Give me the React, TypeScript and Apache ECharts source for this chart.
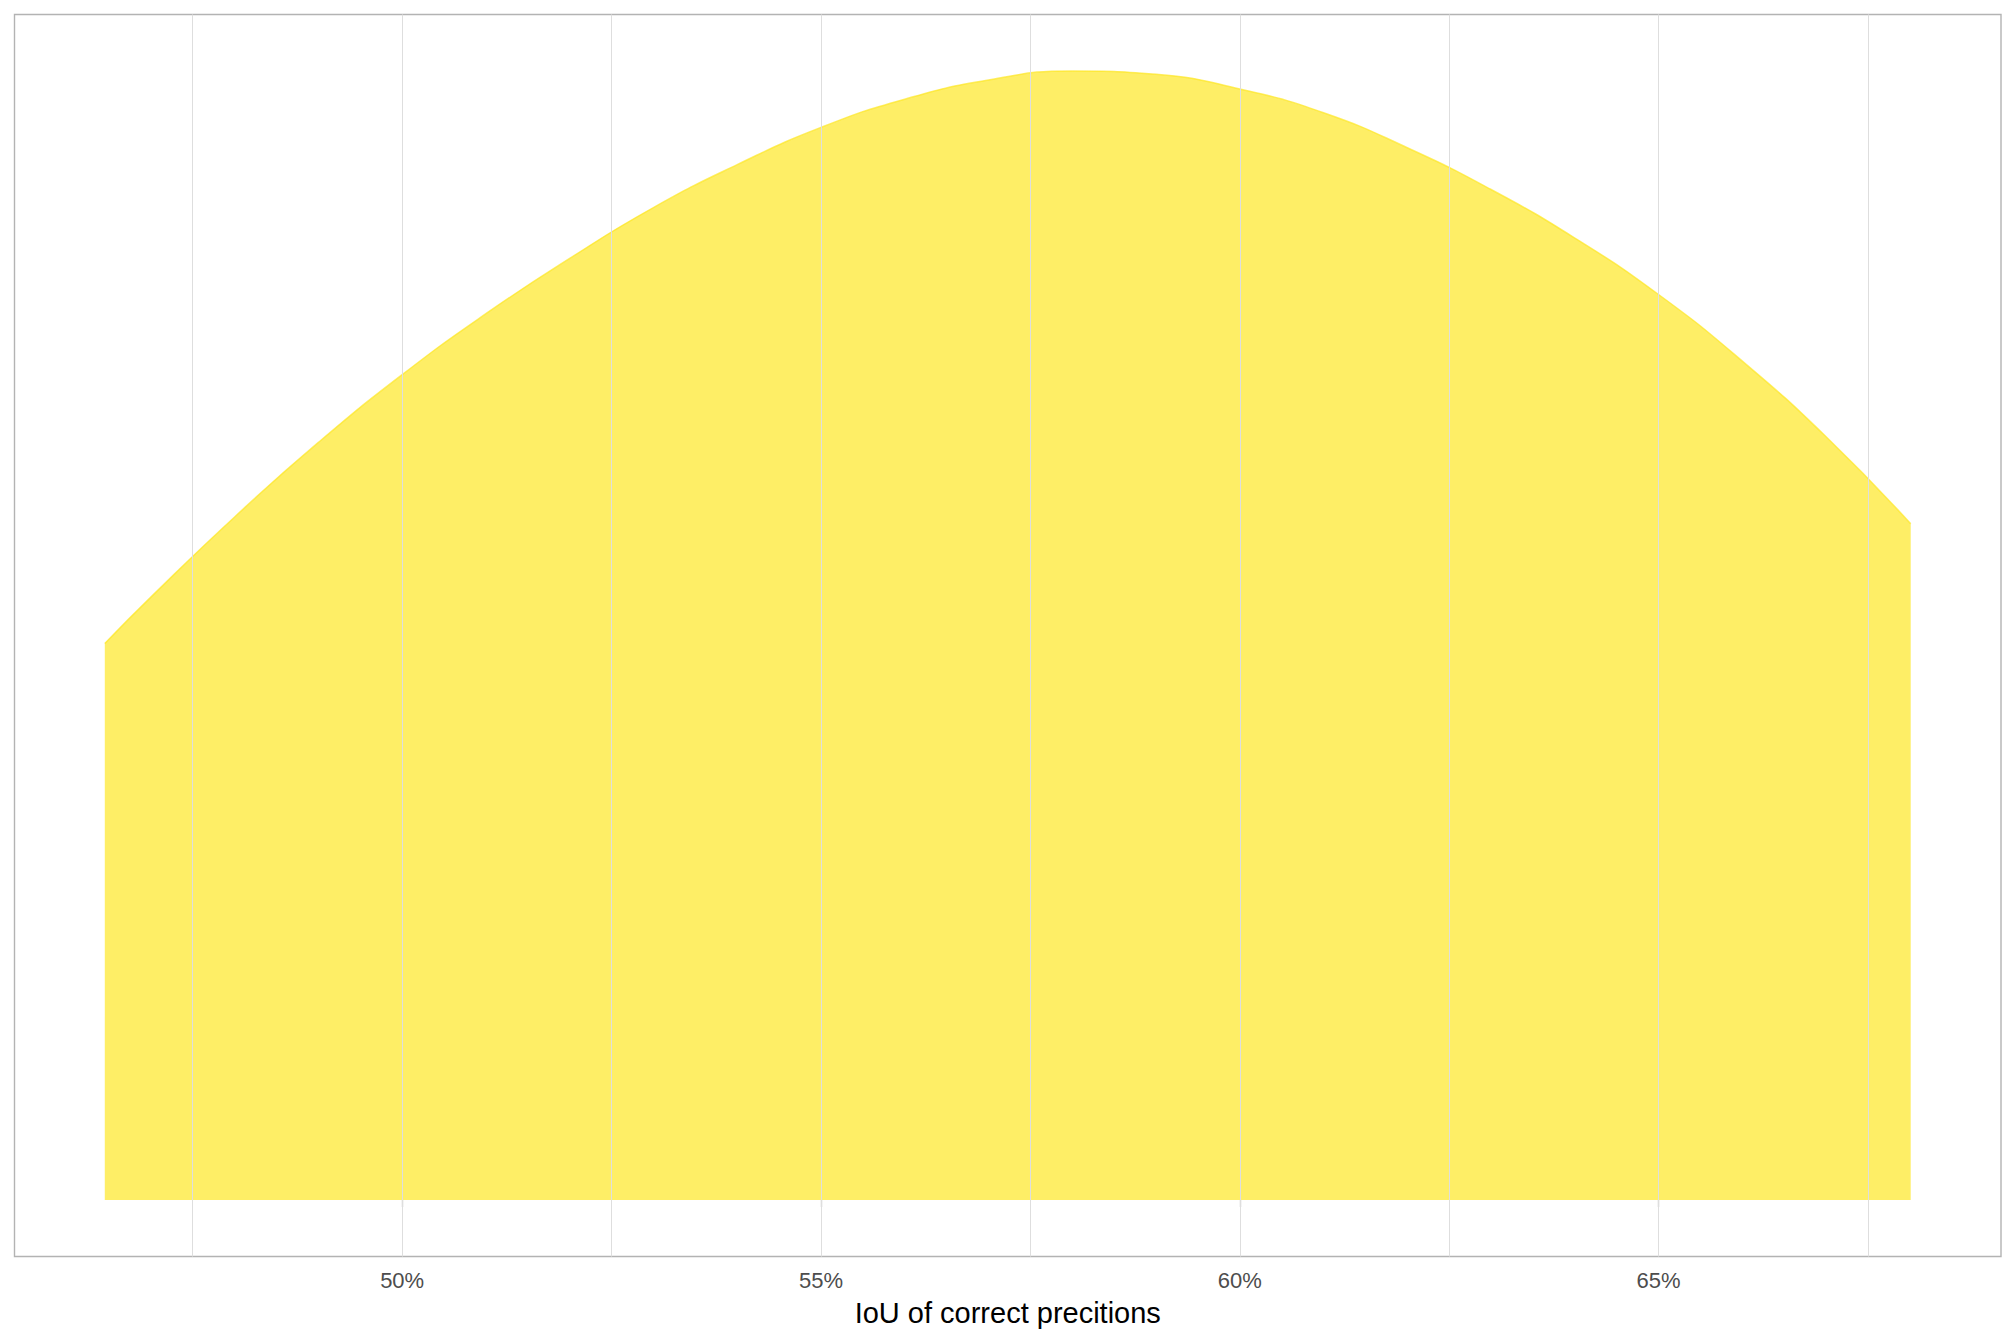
import React, { useEffect, useRef } from "react";
import * as echarts from "echarts";

// IoU of correct predictions (%) and density estimate (relative)
const iou = [46.45, 47, 48, 49, 50, 51, 52, 53, 54, 55, 56, 57, 58, 59, 60, 61, 62, 63, 64, 65, 66, 67, 68.01];
const density = [0.493, 0.534, 0.605, 0.671, 0.731, 0.785, 0.834, 0.879, 0.917, 0.950, 0.975, 0.992, 1.0, 0.997, 0.984, 0.963, 0.932, 0.895, 0.852, 0.802, 0.743, 0.676, 0.599];

const majorTicks = [50, 55, 60, 65];
const gridValues = [47.5, 50, 52.5, 55, 57.5, 60, 62.5, 65, 67.5];
const xTitle = "IoU of correct precitions";

export default function App() {
  const ref = useRef<HTMLDivElement>(null);

  useEffect(() => {
    if (!ref.current) return;
    const chart = echarts.init(ref.current, undefined, { renderer: "svg" });
    const points = iou.map((x, i) => [x, density[i]]);
    const xLo = Math.min(...iou);
    const xHi = Math.max(...iou);
    const xr = xHi - xLo;
    const yMax = Math.max(...density);
    const font = "'Liberation Sans', Arial, sans-serif";

    chart.setOption({
      animation: false,
      backgroundColor: "#ffffff",
      grid: {
        left: 14.5,
        right: 15,
        top: 14.5,
        bottom: 87.5,
        show: true,
        backgroundColor: "#ffffff",
        borderColor: "#b3b3b3",
        borderWidth: 1.4,
        containLabel: false,
        outerBoundsMode: "none",
      },
      xAxis: {
        type: "value",
        min: xLo - 0.05 * xr,
        max: xHi + 0.05 * xr,
        name: xTitle,
        nameLocation: "middle",
        nameGap: 42,
        nameTextStyle: { color: "#000000", fontSize: 29, fontFamily: font },
        axisLine: { show: false },
        axisTick: {
          show: true,
          customValues: majorTicks,
          length: 7,
          lineStyle: { color: "#b3b3b3", width: 1.3 },
        },
        axisLabel: {
          customValues: majorTicks,
          formatter: (v: number) => `${Math.round(v)}%`,
          color: "#4d4d4d",
          fontSize: 22,
          fontFamily: font,
          margin: 13,
        },
        splitLine: { show: false },
        minorSplitLine: { show: false },
      },
      yAxis: {
        type: "value",
        min: -0.05 * yMax,
        max: 1.05 * yMax,
        show: false,
        splitLine: { show: false },
      },
      series: [
        {
          type: "line",
          z: 1,
          data: points,
          showSymbol: false,
          silent: true,
          lineStyle: { width: 0, opacity: 0 },
          markLine: {
            silent: true,
            symbol: ["none", "none"],
            label: { show: false },
            lineStyle: { color: "#dedede", type: "solid", width: 1 },
            data: gridValues.map((v) => ({ xAxis: v })),
          },
        },
        {
          type: "line",
          z: 2,
          data: points,
          smooth: 0.5,
          showSymbol: false,
          silent: true,
          lineStyle: { color: "rgba(253,231,37,0.7)", width: 1.5 },
          areaStyle: { color: "rgba(253,231,37,0.7)", opacity: 1, origin: 0 },
        },
      ],
    });
    return () => chart.dispose();
  }, []);

  return (
    <div
      ref={ref}
      style={{ position: "fixed", left: 0, top: 0, width: 2016, height: 1344 }}
    />
  );
}
